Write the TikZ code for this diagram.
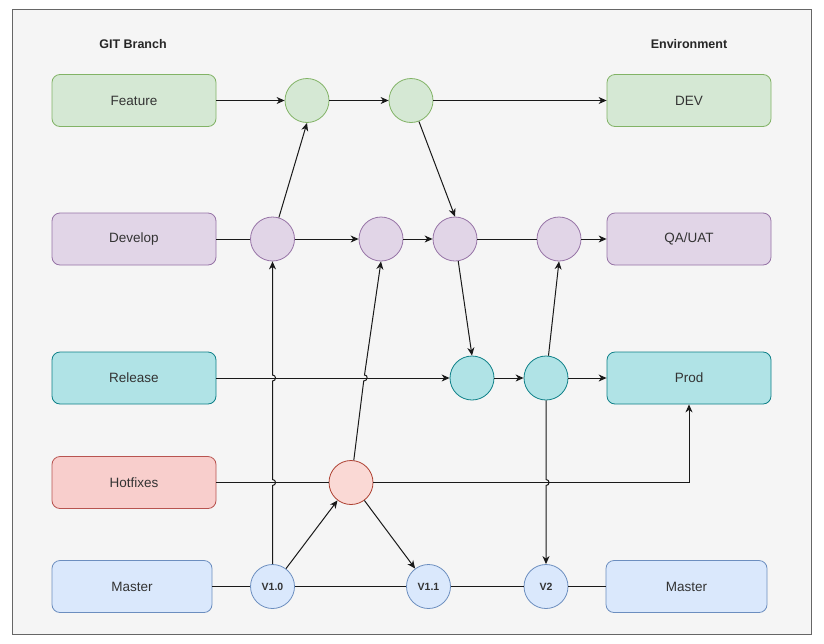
\documentclass[tikz,border=0pt]{standalone}
\usepackage{fontspec}
\setmainfont{Liberation Sans}
\usetikzlibrary{arrows.meta}
\definecolor{bgc}{HTML}{F5F5F5}
\definecolor{bgs}{HTML}{666666}
\definecolor{txt}{HTML}{333333}
\definecolor{gf}{HTML}{D5E8D4}\definecolor{gs}{HTML}{82B366}
\definecolor{pf}{HTML}{E1D5E7}\definecolor{ps}{HTML}{9673A6}
\definecolor{tf}{HTML}{B0E3E6}\definecolor{ts}{HTML}{0E8088}
\definecolor{rf}{HTML}{F8CECC}\definecolor{rs}{HTML}{B85450}
\definecolor{rcf}{HTML}{FAD9D5}\definecolor{rcs}{HTML}{AE4132}
\definecolor{bf}{HTML}{DAE8FC}\definecolor{bs}{HTML}{6C8EBF}
\tikzset{
  box/.style={draw, rounded corners=8pt, minimum width=164pt, minimum height=52pt, line width=0.8pt, text=txt, font=\fontsize{13.5}{16}\selectfont, inner sep=0pt},
  circ/.style={draw, circle, minimum size=44pt, inner sep=0pt, line width=0.8pt, text=txt, font=\fontsize{10.5}{12}\selectfont\bfseries},
  hdr/.style={text=black!85, font=\fontsize{12.5}{15}\selectfont\bfseries},
  ln/.style={draw=black!90, line width=1pt},
  arr/.style={ln, -{Stealth[length=8pt,width=7pt,inset=2.5pt]}},
  green/.style={fill=gf, draw=gs},
  purple/.style={fill=pf, draw=ps},
  teal/.style={fill=tf, draw=ts},
  red/.style={fill=rf, draw=rs},
  redc/.style={fill=rcf, draw=rcs},
  blue/.style={fill=bf, draw=bs},
}
\begin{document}
\begin{tikzpicture}[x=1pt,y=-1pt]
\useasboundingbox (0,0) rectangle (824,643);
\draw[fill=bgc, draw=bgs, line width=0.8pt] (12,9) rectangle (811,634);
\node[hdr] (h1) at (133,44) {GIT Branch};
\node[hdr] (h2) at (689,44) {Environment};
% boxes
\node[box, green] (feature) at (134,100.5) {Feature};
\node[box, purple] (develop) at (134,239) {Develop};
\node[box, teal] (release) at (134,378) {Release};
\node[box, red] (hotfixes) at (134,482.5) {Hotfixes};
\node[box, blue, minimum width=160pt] (masterl) at (132,586.5) {Master};
\node[box, green] (dev) at (689,100.5) {DEV};
\node[box, purple] (qa) at (689,239) {QA/UAT};
\node[box, teal] (prod) at (689,378) {Prod};
\node[box, blue, minimum width=161pt] (masterr) at (686.5,586.5) {Master};
% circles
\node[circ, green] (f1) at (307,100.5) {};
\node[circ, green] (f2) at (411,100.5) {};
\node[circ, purple] (d1) at (272.5,239) {};
\node[circ, purple] (d2) at (381,239) {};
\node[circ, purple] (d3) at (455,239) {};
\node[circ, purple] (d4) at (559,239) {};
\node[circ, teal] (r1) at (472,378) {};
\node[circ, teal] (r2) at (546,378) {};
\node[circ, redc] (hc) at (351,482.5) {};
\node[circ, blue] (v10) at (272.5,586.5) {V1.0};
\node[circ, blue] (v11) at (428.5,586.5) {V1.1};
\node[circ, blue] (v2) at (546,586.5) {V2};
% feature row
\draw[arr] (feature) -- (f1);
\draw[arr] (f1) -- (f2);
\draw[arr] (f2) -- (dev);
% develop row
\draw[ln] (develop) -- (d1);
\draw[arr] (d1) -- (d2);
\draw[arr] (d2) -- (d3);
\draw[ln] (d3) -- (d4);
\draw[arr] (d4) -- (qa);
\draw[arr] (d1) -- (f1.south);
\draw[arr] (f2) -- (d3.north);
\draw[arr] (d3) -- (r1.north);
\draw[arr] (r2) -- (d4.south);
% release row
\draw[arr] (release) -- (r1);
\draw[arr] (r1) -- (r2);
\draw[arr] (r2) -- (prod);
% hotfix row
\draw[ln] (hotfixes) -- (hc);
\coordinate (pc) at (689,482.5);
\draw[arr] (hc) -- (pc) -- (prod);
% master row
\draw[ln] (masterl) -- (v10);
\draw[ln] (v10) -- (v11);
\draw[ln] (v11) -- (v2);
\draw[ln] (v2) -- (masterr);
\draw[arr] (v10) -- (hc);
\draw[arr] (hc) -- (v11);
% jumping connectors
\draw[arr] (v10.north) -- (272.5,485.5) .. controls (276.5,485.5) and (276.5,479.5) .. (272.5,479.5)
  -- (272.5,381) .. controls (276.5,381) and (276.5,375) .. (272.5,375) -- (d1.south);
\draw[arr] (hc) -- (363.7,381) .. controls (367.7,381) and (368.5,375) .. (364.5,375) -- (d2.south);
\draw[arr] (r2.south) -- (546,479.5) .. controls (550,479.5) and (550,485.5) .. (546,485.5) -- (v2.north);
\end{tikzpicture}
\end{document}
